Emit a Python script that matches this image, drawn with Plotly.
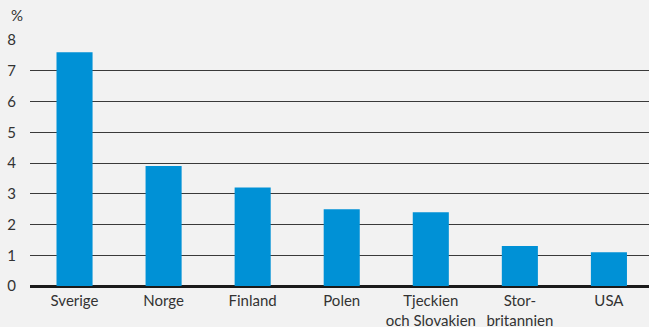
import plotly.graph_objects as go

categories = ["Sverige", "Norge", "Finland", "Polen", "Tjeckien<br>och Slovakien", "Stor-<br>britannien", "USA"]
values = [7.6, 3.9, 3.2, 2.5, 2.4, 1.3, 1.1]
y_ticks = [0, 1, 2, 3, 4, 5, 6, 7, 8]

fig = go.Figure(go.Bar(
    x=categories, y=values, marker_color="#0091d6", width=0.405,
    marker_line_width=0,
))

font = dict(family="Lato, Open Sans, sans-serif", size=15, color="#333333")
fig.update_layout(
    width=649, height=327,
    margin=dict(l=30, r=0, t=40, b=41),
    paper_bgcolor="#f2f2f2", plot_bgcolor="#f2f2f2",
    font=font, showlegend=False,
    xaxis=dict(range=[-0.5, 6.45], showgrid=False, zeroline=False, showline=False,
               ticks="outside", ticklen=1, tickcolor="rgba(0,0,0,0)", automargin=False),
    yaxis=dict(range=[0, 8], tickvals=y_ticks, showgrid=True, gridcolor="#3a3a3a", gridwidth=1,
               zeroline=True, zerolinecolor="#1a1a1a", zerolinewidth=2.5, showline=False,
               ticks="outside", ticklen=10, tickcolor="rgba(0,0,0,0)", automargin=False),
    annotations=[dict(text="%", xref="paper", yref="paper", x=-21/619, y=1 + 25/246,
                      xanchor="left", yanchor="middle", showarrow=False, font=font)],
)
fig.write_html("out.html")
